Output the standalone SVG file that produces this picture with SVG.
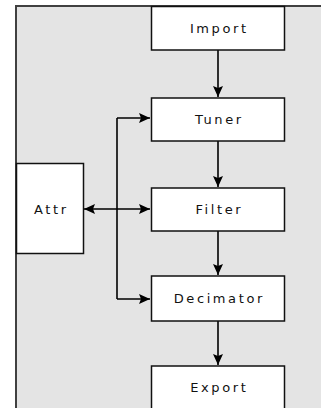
<svg xmlns="http://www.w3.org/2000/svg" width="321" height="408" viewBox="0 0 321 408">
<defs>
<marker id="ah" markerWidth="12" markerHeight="11" refX="11" refY="5" orient="auto" markerUnits="userSpaceOnUse">
<path d="M0,0 L11,5 L0,10 L2,5 z" fill="#000"/>
</marker>
<style>
.box{fill:#fff;stroke:#111;stroke-width:1.5}
.lbl{font-family:"DejaVu Sans",Verdana,sans-serif;font-size:13px;letter-spacing:2.6px;fill:#111;text-anchor:middle}
.con{fill:none;stroke:#000;stroke-width:1.6}
</style>
</defs>
<rect x="16" y="6" width="310" height="410" fill="#e4e4e4" stroke="#404040" stroke-width="2"/>
<g id="connectors">
<path class="con" d="M218,50 V97" marker-end="url(#ah)"/>
<path class="con" d="M218,141 V187" marker-end="url(#ah)"/>
<path class="con" d="M218,231 V275" marker-end="url(#ah)"/>
<path class="con" d="M218,321 V365" marker-end="url(#ah)"/>
<path class="con" d="M117,118 V299"/>
<path class="con" d="M117,118 H150" marker-end="url(#ah)"/>
<path class="con" d="M117,209 H150" marker-end="url(#ah)"/>
<path class="con" d="M117,299 H150" marker-end="url(#ah)"/>
<path class="con" d="M117,209 H84" marker-end="url(#ah)"/>
</g>
<g id="import"><rect class="box" x="151.5" y="6.5" width="133" height="43.5"/><text class="lbl" x="219.3" y="33">Import</text></g>
<g id="tuner"><rect class="box" x="151.5" y="98" width="133" height="43"/><text class="lbl" x="219.3" y="124">Tuner</text></g>
<g id="filter"><rect class="box" x="151.5" y="188" width="133" height="43"/><text class="lbl" x="219.3" y="214">Filter</text></g>
<g id="decimator"><rect class="box" x="151.5" y="276" width="133" height="45"/><text class="lbl" x="219.3" y="303">Decimator</text></g>
<g id="export"><rect class="box" x="151.5" y="366" width="133" height="50"/><text class="lbl" x="219.3" y="391.5">Export</text></g>
<g id="attr"><rect class="box" x="16.5" y="163.5" width="67" height="90"/><text class="lbl" x="51.3" y="214">Attr</text></g>
</svg>
